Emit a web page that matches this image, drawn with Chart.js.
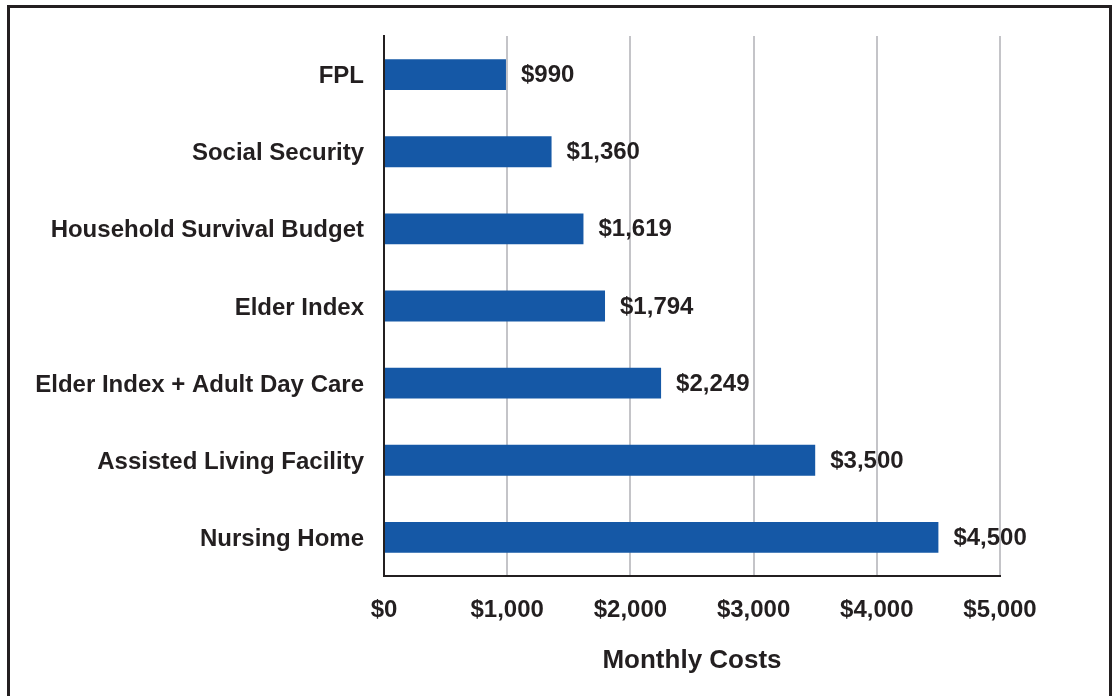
<!DOCTYPE html>
<html>
<head>
<meta charset="utf-8">
<script src="https://cdn.jsdelivr.net/npm/chart.js@4.4.1/dist/chart.umd.min.js"></script>
<style>
  html, body { margin: 0; padding: 0; background: #ffffff; overflow: hidden; }
  #wrap { position: absolute; left: 0; top: 0; width: 1112px; height: 696px; }
  #frame { position: absolute; left: 7px; top: 5px; width: 1099px; height: 700px;
           border: 3px solid #231f20; border-bottom: none; pointer-events: none; }
  canvas { position: absolute; left: 0; top: 0; }
</style>
</head>
<body>
<div id="wrap">
  <canvas id="c" width="1112" height="696"></canvas>
  <div id="frame"></div>
</div>
<script>
const categories = [
  "FPL",
  "Social Security",
  "Household Survival Budget",
  "Elder Index",
  "Elder Index + Adult Day Care",
  "Assisted Living Facility",
  "Nursing Home"
];
const monthlyCosts = [990, 1360, 1619, 1794, 2249, 3500, 4500];
const xTickValues = [0, 1000, 2000, 3000, 4000, 5000];
const axisTitle = "Monthly Costs";

const TEXT = "#231f20";
const FONT = "'Liberation Sans', Arial, Helvetica, sans-serif";

function money(v) {
  return "$" + Number(v).toLocaleString("en-US");
}

const valueLabels = {
  id: "valueLabels",
  afterDatasetsDraw(chart) {
    const ctx = chart.ctx;
    const meta = chart.getDatasetMeta(0);
    ctx.save();
    ctx.fillStyle = TEXT;
    ctx.font = "bold 24px " + FONT;
    ctx.textAlign = "left";
    ctx.textBaseline = "middle";
    meta.data.forEach((bar, i) => {
      ctx.fillText(money(chart.data.datasets[0].data[i]), bar.x + 15, bar.y + 1);
    });
    ctx.restore();
  }
};

new Chart(document.getElementById("c"), {
  type: "bar",
  data: {
    labels: categories,
    datasets: [{
      data: monthlyCosts,
      backgroundColor: "#1558a6",
      borderWidth: 0,
      barPercentage: 0.40,
      categoryPercentage: 1.0
    }]
  },
  options: {
    indexAxis: "y",
    responsive: false,
    animation: false,
    devicePixelRatio: 1,
    layout: { padding: { left: 0, right: 112, top: 36, bottom: 0 } },
    plugins: {
      legend: { display: false },
      tooltip: { enabled: false },
      title: { display: false }
    },
    scales: {
      x: {
        type: "linear",
        min: 0,
        max: 5000,
        afterBuildTicks(scale) {
          scale.ticks = xTickValues.map(v => ({ value: v }));
        },
        afterFit(scale) { scale.height = 120; },
        grid: {
          color: "#c4c4c8",
          lineWidth: 2,
          drawTicks: false
        },
        border: { display: true, color: TEXT, width: 2 },
        ticks: {
          color: TEXT,
          font: { family: FONT, size: 24, weight: "bold" },
          padding: 20,
          callback: v => money(v)
        },
        title: {
          display: true,
          text: axisTitle,
          color: TEXT,
          font: { family: FONT, size: 26, weight: "bold" },
          padding: { top: 0, bottom: 20 }
        }
      },
      y: {
        afterFit(scale) { scale.width = 384; },
        grid: { display: false, drawTicks: false },
        border: { display: true, color: TEXT, width: 2 },
        ticks: {
          color: TEXT,
          font: { family: FONT, size: 24, weight: "bold" },
          padding: 20,
          labelOffset: 2
        }
      }
    }
  },
  plugins: [valueLabels]
});
</script>
</body>
</html>
